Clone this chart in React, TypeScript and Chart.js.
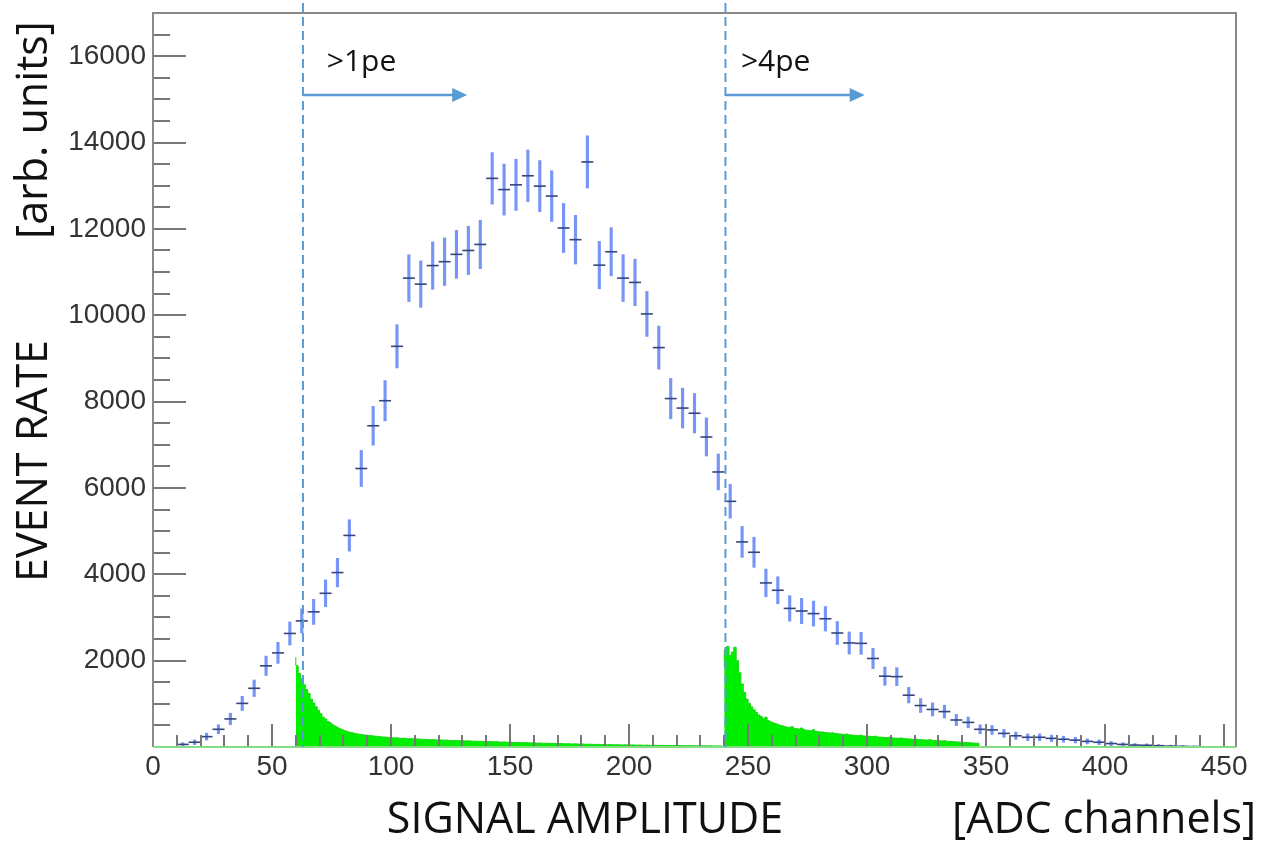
import React, { useEffect, useRef } from 'react';
import { Chart, registerables } from 'chart.js';

Chart.register(...registerables);

// ---- data ----
const binCenters = [
  12.5, 17.5, 22.5, 27.5, 32.5, 37.5, 42.5, 47.5, 52.5, 57.5,
  62.5, 67.5, 72.5, 77.5, 82.5, 87.5, 92.5, 97.5, 102.5, 107.5,
  112.5, 117.5, 122.5, 127.5, 132.5, 137.5, 142.5, 147.5, 152.5, 157.5,
  162.5, 167.5, 172.5, 177.5, 182.5, 187.5, 192.5, 197.5, 202.5, 207.5,
  212.5, 217.5, 222.5, 227.5, 232.5, 237.5, 242.5, 247.5, 252.5, 257.5,
  262.5, 267.5, 272.5, 277.5, 282.5, 287.5, 292.5, 297.5, 302.5, 307.5,
  312.5, 317.5, 322.5, 327.5, 332.5, 337.5, 342.5, 347.5, 352.5, 357.5,
  362.5, 367.5, 372.5, 377.5, 382.5, 387.5, 392.5, 397.5, 402.5, 407.5,
  412.5, 417.5, 422.5, 427.5, 432.5, 437.5,
];
const eventRate = [
  60, 110, 240, 410, 650, 1010, 1360, 1880, 2180, 2630,
  2920, 3130, 3560, 4040, 4900, 6450, 7440, 8020, 9280, 10860,
  10720, 11150, 11240, 11410, 11500, 11640, 13170, 12910, 13020, 13230,
  12990, 12760, 12020, 11750, 13550, 11160, 11470, 10860, 10760, 10030,
  9250, 8070, 7850, 7730, 7180, 6370, 5690, 4750, 4510, 3800,
  3630, 3210, 3150, 3090, 2970, 2640, 2410, 2400, 2050, 1640,
  1630, 1200, 960, 870, 820, 625, 570, 410, 395, 315,
  260, 225, 225, 200, 180, 160, 130, 110, 80, 60,
  45, 40, 30, 20, 15, 10,
];
const eventRateErr = [
  40, 55, 80, 105, 133, 165, 192, 225, 243, 267,
  281, 291, 310, 330, 364, 418, 449, 466, 501, 542,
  538, 549, 551, 555, 558, 561, 597, 591, 593, 598,
  593, 587, 570, 564, 605, 549, 557, 542, 539, 521,
  500, 467, 461, 457, 441, 415, 392, 358, 349, 321,
  313, 295, 292, 289, 284, 267, 255, 255, 235, 211,
  210, 180, 161, 153, 149, 130, 124, 105, 103, 92,
  84, 78, 78, 74, 70, 66, 59, 55, 47, 40,
  35, 33, 28, 23, 20, 16,
];

const green1Start = 60;
const green1 = [
  2080, 1880, 1700, 1580, 1440, 1330, 1240, 1110, 1020, 930,
  850, 770, 690, 650, 590, 560, 515, 485, 450, 425,
  400, 378, 362, 342, 335, 318, 306, 298, 292, 280,
  276, 268, 264, 255, 250, 246, 238, 232, 230, 222,
  218, 214, 210, 212, 205, 200, 203, 196, 192, 195,
  188, 185, 188, 180, 176, 178, 172, 170, 173, 166,
  163, 165, 160, 157, 160, 153, 150, 152, 147, 145,
  148, 142, 140, 143, 137, 134, 136, 131, 129, 132,
  126, 124, 127, 121, 119, 122, 116, 114, 117, 111,
  109, 112, 106, 104, 107, 101, 99, 102, 97, 95,
  98, 92, 90, 93, 88, 86, 89, 84, 82, 85,
  80, 78, 81, 76, 74, 77, 72, 70, 73, 68,
  67, 69, 65, 63, 66, 61, 60, 62, 58, 57,
  59, 55, 54, 56, 52, 51, 53, 49, 48, 50,
  47, 46, 48, 44, 43, 45, 42, 41, 43, 40,
  39, 41, 38, 37, 39, 36, 35, 37, 34, 33,
  35, 33, 32, 34, 31, 30, 32, 29, 30, 28,
  29, 28, 27, 29, 26, 27, 25, 26, 24, 25,
];
const green2Start = 240;
const green2 = [
  1850, 2250, 2330, 2120, 2200, 2310, 2000, 1720, 1460, 1260,
  1110, 1010, 930, 860, 800, 740, 705, 660, 690, 610,
  585, 560, 545, 520, 505, 490, 470, 460, 450, 470,
  430, 425, 415, 440, 400, 390, 385, 375, 400, 362,
  355, 348, 345, 335, 328, 322, 330, 312, 306, 300,
  296, 291, 300, 282, 278, 272, 269, 265, 275, 256,
  252, 249, 245, 241, 250, 233, 229, 226, 222, 219,
  225, 211, 207, 204, 200, 210, 193, 190, 187, 183,
  180, 186, 173, 170, 167, 163, 160, 168, 153, 150,
  147, 144, 140, 146, 133, 130, 126, 123, 119, 116,
  112, 108, 104, 100, 96, 92, 88, 85,
];

const xTickValues = [0, 50, 100, 150, 200, 250, 300, 350, 400, 450];
const yTickValues = [2000, 4000, 6000, 8000, 10000, 12000, 14000, 16000];
const xMin = 0;
const xMax = 455;
const yMin = 0;
const yMax = 17000;

const cutPositions = [63, 240.5];
const cutLabels = ['>1pe', '>4pe'];
const cutLabelX = [73, 247];
const cutLabelY = 15650;
const arrowEnds = [132, 299];
const arrowY = 15100;

const yTitle = 'EVENT RATE';
const yUnits = '[arb. units]';
const xTitle = 'SIGNAL AMPLITUDE';
const xUnits = '[ADC channels]';

function histPoints(start: number, vals: number[]) {
  const pts = vals.map((v, i) => ({ x: start + i, y: v }));
  pts.push({ x: start + vals.length, y: 0 });
  return pts;
}

const TITLE_FONT = '"Open Sans", "Noto Sans", sans-serif';
const BLUE = '#5b9bd5';

const overlayPlugin = {
  id: 'overlay',
  afterDatasetsDraw(chart: any) {
    const { ctx, chartArea: a, scales } = chart;
    const x = scales.x;
    const y = scales.y;
    ctx.save();

    // inner ticks
    ctx.strokeStyle = '#777';
    ctx.lineWidth = 2;
    for (let v = 0; v <= xMax; v += 10) {
      const px = Math.round(x.getPixelForValue(v));
      const len = v % 50 === 0 ? 23 : 12;
      ctx.beginPath();
      ctx.moveTo(px, a.bottom);
      ctx.lineTo(px, a.bottom - len);
      ctx.stroke();
    }
    for (let v = 500; v < yMax; v += 500) {
      const py = Math.round(y.getPixelForValue(v));
      const len = v % 2000 === 0 ? 33 : 17;
      ctx.beginPath();
      ctx.moveTo(a.left, py);
      ctx.lineTo(a.left + len, py);
      ctx.stroke();
    }

    // frame
    ctx.strokeStyle = '#8a8a8a';
    ctx.lineWidth = 2;
    ctx.beginPath();
    ctx.moveTo(a.left, a.bottom);
    ctx.lineTo(a.left, a.top);
    ctx.lineTo(a.right, a.top);
    ctx.lineTo(a.right, a.bottom);
    ctx.stroke();
    ctx.strokeStyle = '#86dc86';
    ctx.beginPath();
    ctx.moveTo(a.left, a.bottom);
    ctx.lineTo(a.right, a.bottom);
    ctx.stroke();

    // cut lines
    ctx.strokeStyle = BLUE;
    ctx.lineWidth = 2;
    ctx.setLineDash([9, 5]);
    cutPositions.forEach((c) => {
      const px = x.getPixelForValue(c);
      ctx.beginPath();
      ctx.moveTo(px, a.top - 10);
      ctx.lineTo(px, a.bottom);
      ctx.stroke();
    });
    ctx.setLineDash([]);

    // arrows
    cutPositions.forEach((c, i) => {
      const x0 = x.getPixelForValue(c);
      const x1 = x.getPixelForValue(arrowEnds[i]);
      const py = y.getPixelForValue(arrowY);
      ctx.strokeStyle = BLUE;
      ctx.fillStyle = BLUE;
      ctx.lineWidth = 2.5;
      ctx.beginPath();
      ctx.moveTo(x0, py);
      ctx.lineTo(x1 - 12, py);
      ctx.stroke();
      ctx.beginPath();
      ctx.moveTo(x1, py);
      ctx.lineTo(x1 - 15, py - 7);
      ctx.lineTo(x1 - 15, py + 7);
      ctx.closePath();
      ctx.fill();
    });

    // cut labels
    ctx.fillStyle = '#111';
    ctx.font = `30px ${TITLE_FONT}`;
    ctx.textAlign = 'left';
    ctx.textBaseline = 'alphabetic';
    cutLabels.forEach((t, i) => {
      ctx.fillText(t, x.getPixelForValue(cutLabelX[i]), y.getPixelForValue(cutLabelY));
    });
    ctx.restore();
  },
  afterDraw(chart: any) {
    const { ctx } = chart;
    ctx.save();
    ctx.fillStyle = '#111';
    ctx.textBaseline = 'alphabetic';
    // y titles
    ctx.font = `43px ${TITLE_FONT}`;
    ctx.textAlign = 'center';
    ctx.save();
    ctx.translate(47, 461);
    ctx.rotate(-Math.PI / 2);
    ctx.fillText(yTitle, 0, 0);
    ctx.restore();
    ctx.save();
    ctx.translate(47, 130);
    ctx.rotate(-Math.PI / 2);
    ctx.fillText(yUnits, 0, 0);
    ctx.restore();
    // x titles
    ctx.font = `43px ${TITLE_FONT}`;
    ctx.textAlign = 'center';
    ctx.fillText(xTitle, 585, 833);
    ctx.textAlign = 'right';
    ctx.fillText(xUnits, 1256, 833);
    ctx.restore();
  },
};

export default function App() {
  const ref = useRef<HTMLCanvasElement | null>(null);

  useEffect(() => {
    const canvas = ref.current;
    if (!canvas) return;
    const tickFont = { family: '"Liberation Sans", Arial, sans-serif', size: 28 };
    const chart = new Chart(canvas, {
      type: 'bar',
      data: {
        datasets: [
          {
            type: 'line',
            data: histPoints(green1Start, green1),
            stepped: 'after',
            fill: 'origin',
            backgroundColor: '#00ee00',
            borderColor: '#1ad41a',
            borderWidth: 1,
            pointRadius: 0,
            order: 4,
          } as any,
          {
            type: 'line',
            data: histPoints(green2Start, green2),
            stepped: 'after',
            fill: 'origin',
            backgroundColor: '#00ee00',
            borderColor: '#1ad41a',
            borderWidth: 1,
            pointRadius: 0,
            order: 3,
          } as any,
          {
            type: 'bar',
            data: binCenters.map((c, i) => ({ x: c, y: [eventRate[i] - eventRateErr[i], eventRate[i] + eventRateErr[i]] })),
            backgroundColor: 'rgba(95,130,245,0.85)',
            borderWidth: 0,
            barThickness: 2.5,
            grouped: false,
            order: 2,
          } as any,
          {
            type: 'scatter',
            data: binCenters.map((c, i) => ({ x: c, y: eventRate[i] })),
            pointStyle: 'line',
            pointRadius: 6,
            pointBorderWidth: 1.6,
            pointBorderColor: '#34457e',
            pointBackgroundColor: '#34457e',
            showLine: false,
            order: 1,
          } as any,
        ],
      },
      options: {
        animation: false,
        responsive: false,
        devicePixelRatio: 1,
        layout: { padding: { left: 0, top: 13, right: 30, bottom: 0 } },
        plugins: { legend: { display: false }, tooltip: { enabled: false } },
        scales: {
          x: {
            type: 'linear',
            min: xMin,
            max: xMax,
            offset: false,
            grid: { display: false, drawTicks: false },
            border: { display: false },
            ticks: {
              autoSkip: false,
              maxRotation: 0,
              padding: 3,
              font: tickFont,
              color: '#333',
              callback: (v: any) => String(v),
            },
            afterBuildTicks: (s: any) => {
              s.ticks = xTickValues.map((v) => ({ value: v }));
            },
            afterFit: (s: any) => {
              s.height = 94;
              s.paddingLeft = 0;
              s.paddingRight = 0;
            },
          },
          y: {
            type: 'linear',
            min: yMin,
            max: yMax,
            grid: { display: false, drawTicks: false },
            border: { display: false },
            ticks: {
              autoSkip: false,
              padding: 7,
              font: tickFont,
              color: '#333',
              callback: (v: any) => String(v),
            },
            afterBuildTicks: (s: any) => {
              s.ticks = yTickValues.map((v) => ({ value: v }));
            },
            afterFit: (s: any) => {
              s.width = 153;
              s.paddingTop = 0;
              s.paddingBottom = 0;
            },
          },
        },
      } as any,
      plugins: [overlayPlugin],
    });
    return () => chart.destroy();
  }, []);

  return (
    <div style={{ position: 'absolute', left: 0, top: 0, width: 1266, height: 841, background: '#fff' }}>
      <canvas ref={ref} width={1266} height={841} style={{ width: 1266, height: 841, display: 'block' }} />
    </div>
  );
}
